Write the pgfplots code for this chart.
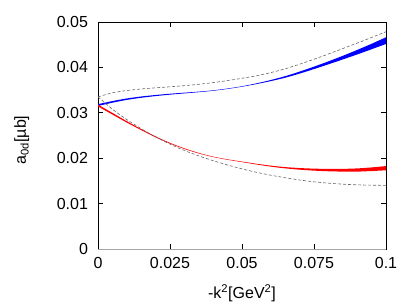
\documentclass[border=0pt]{standalone}
\usepackage{pgfplots}
\pgfplotsset{compat=1.18}
\usepackage{pgfplotstable}
\usepgfplotslibrary{fillbetween}
\usepackage{fontspec}
\setmainfont{Liberation Sans}
\pgfplotstableread{
x      bc       bw       rc       rw       ud       ld
0      0.0317   0.00020  0.0316   0.00020  0.0335   0.0335
0.005  0.0324   0.00018  0.0298   0.00018  0.0344   0.0308
0.01   0.0330   0.00016  0.0280   0.00015  0.0349   0.0285
0.015  0.03345  0.00014  0.0263   0.00012  0.03525  0.0265
0.02   0.0338   0.00012  0.0247   0.00010  0.0355   0.0247
0.025  0.0341   0.00010  0.0233   0.00008  0.03573  0.0231
0.03   0.03435  0.00008  0.0221   0.00007  0.03598  0.0217
0.035  0.0346   0.00006  0.0211   0.00006  0.03628  0.0205
0.04   0.0349   0.00005  0.0203   0.00005  0.03665  0.01945
0.045  0.0353   0.00005  0.0197   0.00005  0.0371   0.0185
0.05   0.0358   0.00005  0.0192   0.00006  0.0376   0.01765
0.055  0.0364   0.00008  0.0187   0.00008  0.03815  0.0169
0.06   0.0371   0.00012  0.01825  0.00011  0.03885  0.01625
0.065  0.0379   0.00017  0.0179   0.00014  0.0397   0.0157
0.07   0.03885  0.00022  0.01765  0.00018  0.0407   0.0152
0.075  0.0399   0.00027  0.01748  0.00022  0.0418   0.0148
0.08   0.0410   0.00033  0.01738  0.00026  0.04295  0.0145
0.085  0.04215  0.00040  0.01735  0.00030  0.04415  0.01428
0.09   0.04335  0.00050  0.0174   0.00035  0.04535  0.01413
0.095  0.0446   0.00060  0.01757  0.00040  0.0466   0.01405
0.1    0.0459   0.00074  0.0178   0.00046  0.04785  0.01402
}\data
\begin{document}
\begin{tikzpicture}
\begin{axis}[
  scale only axis, width=288pt, height=227pt,
  xmin=0, xmax=0.1, ymin=0, ymax=0.05,
  clip=false,
  xtick={0,0.025,0.05,0.075,0.1},
  xticklabels={0,0.025,0.05,0.075,0.1},
  ytick={0,0.01,0.02,0.03,0.04,0.05},
  yticklabels={0,0.01,0.02,0.03,0.04,0.05},
  scaled x ticks=false, scaled y ticks=false,
  tick align=inside, major tick length=5pt,
  tick style={black, line width=0.6pt},
  axis line style={line width=0.75pt},
  tick label style={font=\fontsize{16}{19}\selectfont},
  label style={font=\fontsize{16}{19}\selectfont},
  yticklabel style={xshift=-6.5pt},
  xticklabel style={yshift=-4.7pt},
  xlabel={-k\textsuperscript{2}[GeV\textsuperscript{2}]},
  ylabel={a\textsubscript{0d}[µb]},
  xlabel style={at={(axis description cs:0.5,-0.22)}, anchor=base},
  ylabel style={at={(axis description cs:-0.25,0.48)}, anchor=base},
]
\addplot[name path=bu, draw=none, smooth, forget plot] table[x=x, y expr=\thisrow{bc}+\thisrow{bw}] {\data};
\addplot[name path=bl, draw=none, smooth, forget plot] table[x=x, y expr=\thisrow{bc}-\thisrow{bw}] {\data};
\addplot[fill=blue, draw=none, forget plot] fill between[of=bu and bl];
\addplot[name path=ru, draw=none, smooth, forget plot] table[x=x, y expr=\thisrow{rc}+\thisrow{rw}] {\data};
\addplot[name path=rl, draw=none, smooth, forget plot] table[x=x, y expr=\thisrow{rc}-\thisrow{rw}] {\data};
\addplot[fill=red, draw=none, forget plot] fill between[of=ru and rl];
\addplot[gray!80!black, line width=0.6pt, dash pattern=on 3pt off 2pt, smooth] table[x=x, y=ud] {\data};
\addplot[gray!80!black, line width=0.6pt, dash pattern=on 3pt off 2pt, smooth] table[x=x, y=ld] {\data};
\addplot[gray!70, line width=0.9pt] coordinates {(0,0) (0.1,0)};
\end{axis}
\pgfresetboundingbox
\useasboundingbox (-98pt,-53pt) rectangle (317pt,249pt);
\end{tikzpicture}
\end{document}
